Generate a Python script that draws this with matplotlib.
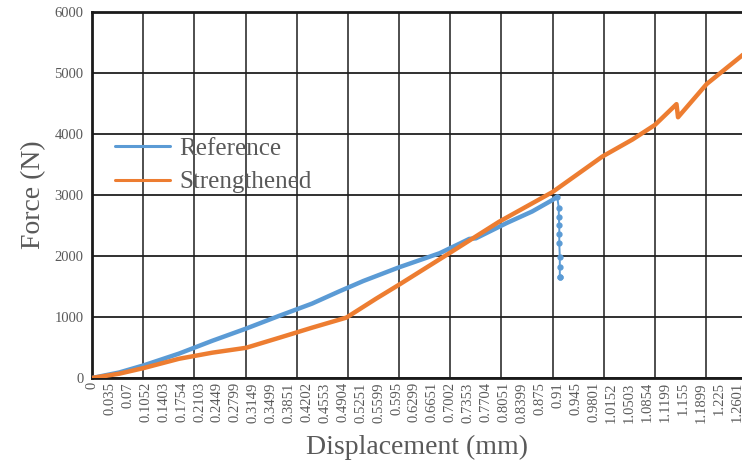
import numpy as np
import matplotlib.pyplot as plt
from matplotlib.ticker import MultipleLocator

plt.rcParams['font.family'] = ['Liberation Serif', 'DejaVu Serif']

# displacement (mm) and force (N)
ref_disp = [0, 0.053, 0.102, 0.170, 0.235, 0.301, 0.366, 0.430, 0.483, 0.530,
            0.600, 0.679, 0.720, 0.737, 0.750, 0.810, 0.860, 0.900, 0.909]
ref_force = [0, 90, 210, 400, 610, 810, 1020, 1220, 1420, 1590,
             1815, 2045, 2210, 2280, 2290, 2540, 2730, 2920, 2970]

# the sudden drop at failure
drop_disp = [0.909, 0.912, 0.912, 0.913, 0.913, 0.913, 0.914, 0.914, 0.914, 0.914]
drop_force = [2970, 2790, 2640, 2510, 2360, 2210, 1980, 1815, 1650, 1650]

str_disp = [0, 0.053, 0.102, 0.170, 0.235, 0.301, 0.366, 0.430, 0.497, 0.555,
            0.600, 0.698, 0.795, 0.900, 0.997, 1.056, 1.100, 1.142, 1.145,
            1.201, 1.269, 1.30]
str_force = [0, 70, 165, 315, 415, 495, 660, 825, 990, 1300,
             1530, 2045, 2560, 3050, 3630, 3910, 4150, 4490, 4275,
             4820, 5280, 5500]

tick_labels = ['0', '0.035', '0.07', '0.1052', '0.1403', '0.1754', '0.2103',
               '0.2449', '0.2799', '0.3149', '0.3499', '0.3851', '0.4202',
               '0.4553', '0.4904', '0.5251', '0.5599', '0.595', '0.6299',
               '0.6651', '0.7002', '0.7353', '0.7704', '0.8051', '0.8399',
               '0.875', '0.91', '0.945', '0.9801', '1.0152', '1.0503',
               '1.0854', '1.1199', '1.155', '1.1899', '1.225', '1.2601']

blue = '#5B9BD5'
orange = '#ED7D31'
grey = '#595959'

fig = plt.figure(figsize=(7.42, 4.63), dpi=100)
ax = fig.add_axes([0.124, 0.1836, 0.876, 0.7904])

ax.plot(ref_disp, ref_force, color=blue, lw=3.2, label='Reference',
        solid_capstyle='round', zorder=3)
ax.plot(drop_disp, drop_force, color=blue, lw=1.4, marker='o', ms=3.5,
        zorder=3)
ax.plot(str_disp, str_force, color=orange, lw=3.2, label='Strengthened',
        solid_capstyle='round', zorder=3)

ax.set_xlim(0, 1.27)
ax.set_ylim(0, 6000)
ax.yaxis.set_major_locator(MultipleLocator(1000))
ax.set_xticks([float(t) for t in tick_labels])
ax.set_xticklabels(tick_labels, rotation=90, fontsize=10.5, color=grey)
ax.xaxis.set_minor_locator(MultipleLocator(0.1))
ax.tick_params(axis='y', labelsize=10.5, colors=grey, length=0, pad=6)
ax.tick_params(axis='x', which='both', length=0, pad=3)

ax.grid(False, axis='x', which='major')
ax.grid(True, axis='x', which='minor', color='#404040', lw=1.3)
ax.grid(True, axis='y', which='major', color='#202020', lw=1.3)
ax.set_axisbelow(True)

for s in ['left', 'bottom', 'top']:
    ax.spines[s].set_linewidth(2)
    ax.spines[s].set_color('#1a1a1a')
ax.spines['right'].set_visible(False)

ax.set_xlabel('Displacement (mm)', fontsize=20, color=grey, labelpad=9)
ax.set_ylabel('Force (N)', fontsize=20, color=grey, labelpad=6)

leg = ax.legend(loc='upper left', bbox_to_anchor=(0.0, 0.72), frameon=False,
                fontsize=18, handlelength=2.2, handletextpad=0.4,
                labelspacing=0.45)
for t in leg.get_texts():
    t.set_color(grey)
for h in leg.get_lines():
    h.set_linewidth(2.2)

plt.savefig('out.png', dpi=100)
